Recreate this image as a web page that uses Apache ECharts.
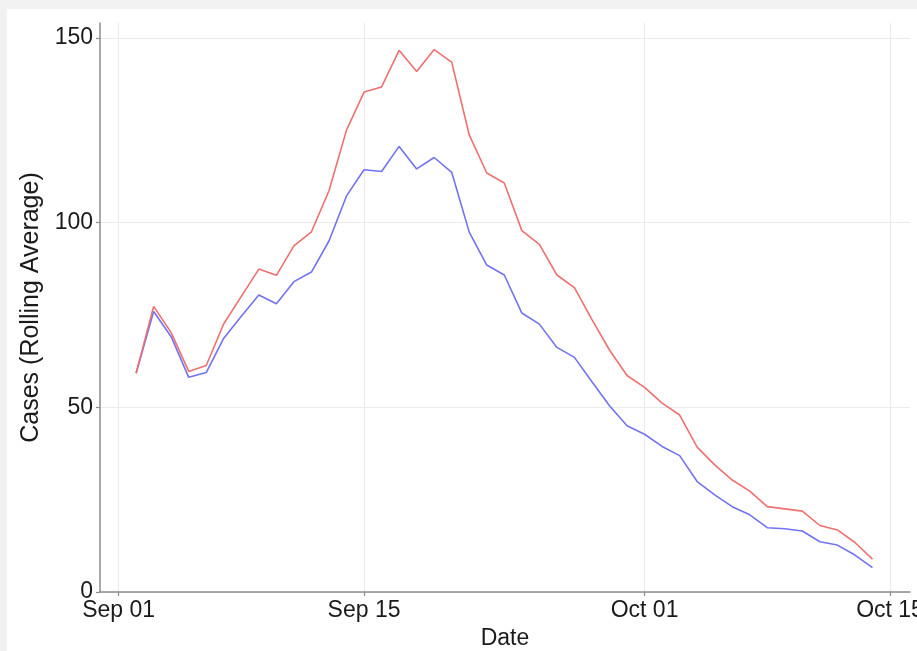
<!DOCTYPE html>
<html>
<head>
<meta charset="utf-8">
<script src="https://cdn.jsdelivr.net/npm/echarts@6/dist/echarts.min.js"></script>
<style>
  html, body { margin: 0; padding: 0; background: #f2f2f2; }
  #chart { width: 917px; height: 651px; }
</style>
</head>
<body>
<div id="chart"></div>
<script>
// ---- data ----
const dates = [
  '2020-09-02','2020-09-03','2020-09-04','2020-09-05','2020-09-06','2020-09-07','2020-09-08',
  '2020-09-09','2020-09-10','2020-09-11','2020-09-12','2020-09-13','2020-09-14','2020-09-15',
  '2020-09-16','2020-09-17','2020-09-18','2020-09-19','2020-09-20','2020-09-21','2020-09-22',
  '2020-09-23','2020-09-24','2020-09-25','2020-09-26','2020-09-27','2020-09-28','2020-09-29',
  '2020-09-30','2020-10-01','2020-10-02','2020-10-03','2020-10-04','2020-10-05','2020-10-06',
  '2020-10-07','2020-10-08','2020-10-09','2020-10-10','2020-10-11','2020-10-12','2020-10-13',
  '2020-10-14'
];
const redValues = [
  59.2, 77.3, 70.2, 59.7, 61.3, 72.6, 80.0,
  87.4, 85.7, 93.7, 97.5, 108.6, 125.0, 135.3,
  136.7, 146.6, 140.9, 146.8, 143.4, 123.7, 113.4,
  110.7, 97.8, 94.1, 85.8, 82.4, 73.7, 65.5,
  58.6, 55.4, 51.1, 47.9, 39.2, 34.4, 30.3,
  27.3, 23.1, 22.5, 21.9, 18.0, 16.8, 13.4,
  8.9
];
const blueValues = [
  59.2, 75.9, 69.1, 58.1, 59.4, 68.7, 74.6,
  80.4, 78.0, 84.0, 86.6, 95.0, 107.2, 114.3,
  113.8, 120.6, 114.5, 117.6, 113.6, 97.4, 88.5,
  85.8, 75.5, 72.5, 66.2, 63.5, 56.9, 50.4,
  45.0, 42.7, 39.4, 36.9, 29.9, 26.3, 23.1,
  20.9, 17.4, 17.1, 16.5, 13.6, 12.7, 10.0,
  6.6
];
const xTickDates = ['2020-09-01','2020-09-15','2020-10-01','2020-10-15'];
const xTickLabels = ['Sep 01','Sep 15','Oct 01','Oct 15'];
const yTicks = [0, 50, 100, 150];

// ---- helpers ----
const origin = Date.parse('2020-09-01T00:00:00Z');
const dayOf = d => Math.round((Date.parse(d + 'T00:00:00Z') - origin) / 86400000);
const xTickValues = xTickDates.map(dayOf);
const redData = dates.map((d, i) => [dayOf(d), redValues[i]]);
const blueData = dates.map((d, i) => [dayOf(d), blueValues[i]]);

const FONT = 'Liberation Sans, Arial, Helvetica, sans-serif';
const TXT = '#1a1a1a';
const AXIS = '#8c8c8c';
const GRID = '#ebebeb';

const chart = echarts.init(document.getElementById('chart'));
chart.setOption({
  backgroundColor: '#f2f2f2',
  animation: false,
  graphic: [{
    type: 'rect', z: -10, silent: true,
    shape: { x: 7, y: 9, width: 910, height: 642 },
    style: { fill: '#ffffff' }
  }],
  grid: { left: 100, right: 7, top: 23, bottom: 59, containLabel: false, outerBoundsMode: 'none' },
  xAxis: {
    type: 'value',
    min: -1.06, max: 45.14,
    name: 'Date', nameLocation: 'middle', nameGap: 35,
    nameTextStyle: { fontFamily: FONT, fontSize: 23, color: TXT },
    axisLine: { show: true, onZero: false, lineStyle: { color: AXIS, width: 1.5 } },
    axisTick: { show: true, length: 4, lineStyle: { color: AXIS, width: 1.2 }, customValues: xTickValues },
    axisLabel: {
      customValues: xTickValues, margin: 7, hideOverlap: false,
      fontFamily: FONT, fontSize: 23, color: TXT,
      formatter: v => { const i = xTickValues.indexOf(Math.round(v)); return i >= 0 ? xTickLabels[i] : ''; }
    },
    splitLine: { show: true, lineStyle: { color: GRID, width: 1.2 } }
  },
  yAxis: {
    type: 'value',
    min: 0, max: 154,
    name: 'Cases (Rolling Average)', nameLocation: 'middle', nameGap: 50,
    nameTextStyle: { fontFamily: FONT, fontSize: 25, color: TXT },
    axisLine: { show: true, onZero: false, lineStyle: { color: AXIS, width: 1.5 } },
    axisTick: { show: true, length: 4, lineStyle: { color: AXIS, width: 1.2 }, customValues: yTicks },
    axisLabel: { customValues: yTicks, margin: 7, fontFamily: FONT, fontSize: 23, color: TXT },
    splitLine: { show: true, lineStyle: { color: GRID, width: 1.2 } }
  },
  series: [
    {
      name: 'blue', type: 'line', data: blueData, showSymbol: false,
      lineStyle: { color: '#7373f0', width: 1.6 }, itemStyle: { color: '#7373f0' }
    },
    {
      name: 'red', type: 'line', data: redData, showSymbol: false,
      lineStyle: { color: '#ee7070', width: 1.6 }, itemStyle: { color: '#ee7070' }
    }
  ]
});
</script>
</body>
</html>
